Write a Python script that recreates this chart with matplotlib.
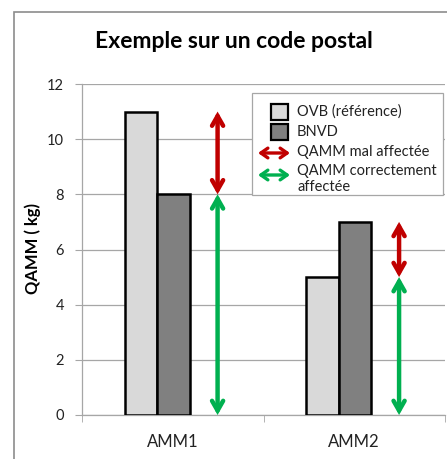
import matplotlib
matplotlib.use("Agg")
import matplotlib.pyplot as plt
from matplotlib.patches import Rectangle, FancyArrowPatch

categories = ["AMM1", "AMM2"]
ovb = [11, 5]
bnvd = [8, 7]
yticks = [0, 2, 4, 6, 8, 10, 12]
title = "Exemple sur un code postal"
ylabel = "QAMM ( kg)"
legend_labels = ["OVB (référence)", "BNVD", "QAMM mal affectée", "QAMM correctement\naffectée"]

LIGHT = "#D9D9D9"
DARK = "#808080"
RED = "#C00000"
GREEN = "#00B050"
GRID = "#A6A6A6"

plt.rcParams['font.family'] = ['Lato', 'DejaVu Sans']

W, H = 447, 459
fig = plt.figure(figsize=(W / 100, H / 100), dpi=100)

def fx(px):
    return px / W

def fy(py):
    return 1 - py / H

# outer chart border
fig.add_artist(Rectangle((fx(14), fy(470)), fx(460) - fx(14), fy(12) - fy(470),
                         transform=fig.transFigure, fill=False, edgecolor="#8C8C8C", lw=1.2))

ax = fig.add_axes([fx(82), fy(415), fx(445) - fx(82), fy(84) - fy(415)])
ax.set_xlim(-0.5, 1.5)
ax.set_ylim(0, 12)

bw = 0.18
offset = -0.085
x = list(range(len(categories)))
ax.bar([i + offset - bw / 2 for i in x], ovb, width=bw, color=LIGHT, edgecolor="black", lw=1.8, zorder=3)
ax.bar([i + offset + bw / 2 for i in x], bnvd, width=bw, color=DARK, edgecolor="black", lw=1.8, zorder=3)

# arrows
arrow_x = 0.247
for i in x:
    lo = min(ovb[i], bnvd[i])
    hi = max(ovb[i], bnvd[i])
    for y0, y1, c in [(lo, hi, RED), (0, lo, GREEN)]:
        a = FancyArrowPatch((i + arrow_x, y0), (i + arrow_x, y1),
                            arrowstyle="<->,head_length=7,head_width=4",
                            color=c, lw=3.2, shrinkA=0, shrinkB=0, zorder=4,
                            capstyle="round", joinstyle="miter", mutation_scale=1)
        ax.add_patch(a)

ax.set_yticks(yticks)
ax.yaxis.grid(True, color=GRID, lw=0.9, zorder=0)
ax.set_axisbelow(True)
for s in ["top", "right"]:
    ax.spines[s].set_visible(False)
ax.spines["left"].set_color(GRID)
ax.spines["bottom"].set_color(GRID)
ax.spines["left"].set_linewidth(0.9)
ax.spines["bottom"].set_linewidth(0.9)
ax.tick_params(axis="y", direction="out", length=5, color=GRID, labelsize=10.5, pad=8, labelcolor="#222222")

ax.set_xticks(x)
ax.set_xticklabels(categories)
ax.set_xticks([-0.5, 0.5, 1.5], minor=True)
ax.tick_params(axis="x", which="major", length=0, labelsize=12, pad=14, labelcolor="#222222")
ax.tick_params(axis="x", which="minor", direction="out", length=5, color=GRID)

fig.text(fx(33), fy(249), ylabel, fontsize=12, fontweight="bold", rotation=90, ha="center", va="center")
fig.text(fx(234), fy(42), title, fontsize=16.5, fontweight="bold", ha="center", va="center")

# legend (manual)
fig.add_artist(Rectangle((fx(252), fy(195)), fx(443) - fx(252), fy(93) - fy(195),
                         transform=fig.transFigure, facecolor="white", edgecolor="#A6A6A6", lw=0.9, zorder=10))
for py, col in [(112, LIGHT), (132, DARK)]:
    fig.add_artist(Rectangle((fx(271), fy(py + 8)), fx(288) - fx(271), fy(py - 8) - fy(py + 8),
                             transform=fig.transFigure, facecolor=col, edgecolor="black", lw=1.6, zorder=11))
for py, col in [(153, RED), (175, GREEN)]:
    fig.add_artist(FancyArrowPatch((fx(258), fy(py)), (fx(290), fy(py)), transform=fig.transFigure,
                                   arrowstyle="<->,head_length=5,head_width=3.5", color=col, lw=2.4,
                                   shrinkA=0, shrinkB=0, mutation_scale=1, zorder=11))
for py, txt in [(112, legend_labels[0]), (132, legend_labels[1]), (152, legend_labels[2])]:
    fig.text(fx(297), fy(py), txt, fontsize=10.5, va="center", ha="left", zorder=12, color="#222222")
fig.text(fx(297), fy(179), legend_labels[3], fontsize=10.5, va="center", ha="left", zorder=12,
         color="#222222", linespacing=1.1)

fig.savefig("out.png", dpi=100)
